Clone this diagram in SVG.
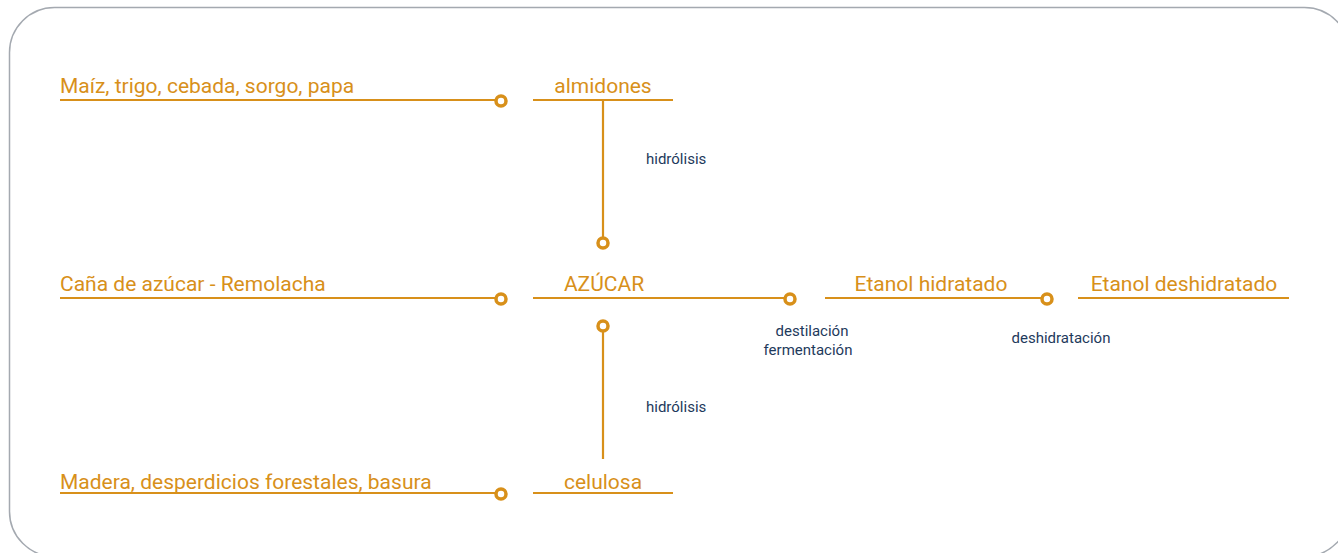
<svg xmlns="http://www.w3.org/2000/svg" width="1338" height="553" viewBox="0 0 1338 553">
<style>
.frame{fill:none;stroke:#a4a9b0;stroke-width:1.5}
.ln{stroke:#d8901a;stroke-width:2.2;fill:none}
.dot{fill:#fff;stroke:#d8901a;stroke-width:3.5}
.lbl{font-family:Roboto,"Liberation Sans",sans-serif;font-size:21px;fill:#d8901a}
.sub{font-family:Roboto,"Liberation Sans",sans-serif;font-size:15px;fill:#1e3a5c}
</style>
<rect class="frame" x="9.5" y="7.5" width="1340" height="549" rx="45"/>
<g id="connectors">
<line class="ln" x1="60" y1="100" x2="497" y2="100"/>
<line class="ln" x1="533" y1="100" x2="673" y2="100"/>
<line class="ln" x1="603" y1="100" x2="603" y2="238"/>
<line class="ln" x1="60" y1="298" x2="497" y2="298"/>
<line class="ln" x1="533" y1="298" x2="786" y2="298"/>
<line class="ln" x1="825" y1="298" x2="1043" y2="298"/>
<line class="ln" x1="1078" y1="298" x2="1289" y2="298"/>
<line class="ln" x1="603" y1="331" x2="603" y2="459"/>
<line class="ln" x1="60" y1="493" x2="497" y2="493"/>
<line class="ln" x1="533" y1="493" x2="673" y2="493"/>
<circle class="dot" cx="501" cy="101" r="5"/>
<circle class="dot" cx="603" cy="243" r="5"/>
<circle class="dot" cx="501" cy="299" r="5"/>
<circle class="dot" cx="790" cy="299" r="5"/>
<circle class="dot" cx="1047" cy="299" r="5"/>
<circle class="dot" cx="603" cy="326" r="5"/>
<circle class="dot" cx="501" cy="494" r="5"/>
</g>
<g id="n-maiz"><text class="lbl" x="60" y="93">Maíz, trigo, cebada, sorgo, papa</text></g>
<g id="n-almidones"><text class="lbl" x="603" y="93" text-anchor="middle">almidones</text></g>
<g id="n-hidrolisis1"><text class="sub" x="646" y="164">hidrólisis</text></g>
<g id="n-cana"><text class="lbl" x="60" y="291">Caña de azúcar - Remolacha</text></g>
<g id="n-azucar"><text class="lbl" x="604" y="291" text-anchor="middle">AZÚCAR</text></g>
<g id="n-etanolh"><text class="lbl" x="931" y="291" text-anchor="middle">Etanol hidratado</text></g>
<g id="n-etanold"><text class="lbl" x="1184" y="291" text-anchor="middle">Etanol deshidratado</text></g>
<g id="n-destilacion"><text class="sub" x="812" y="336" text-anchor="middle">destilación</text><text class="sub" x="808" y="355" text-anchor="middle">fermentación</text></g>
<g id="n-deshidratacion"><text class="sub" x="1061" y="343" text-anchor="middle">deshidratación</text></g>
<g id="n-hidrolisis2"><text class="sub" x="646" y="412">hidrólisis</text></g>
<g id="n-madera"><text class="lbl" x="60" y="489">Madera, desperdicios forestales, basura</text></g>
<g id="n-celulosa"><text class="lbl" x="603" y="489" text-anchor="middle">celulosa</text></g>
</svg>
